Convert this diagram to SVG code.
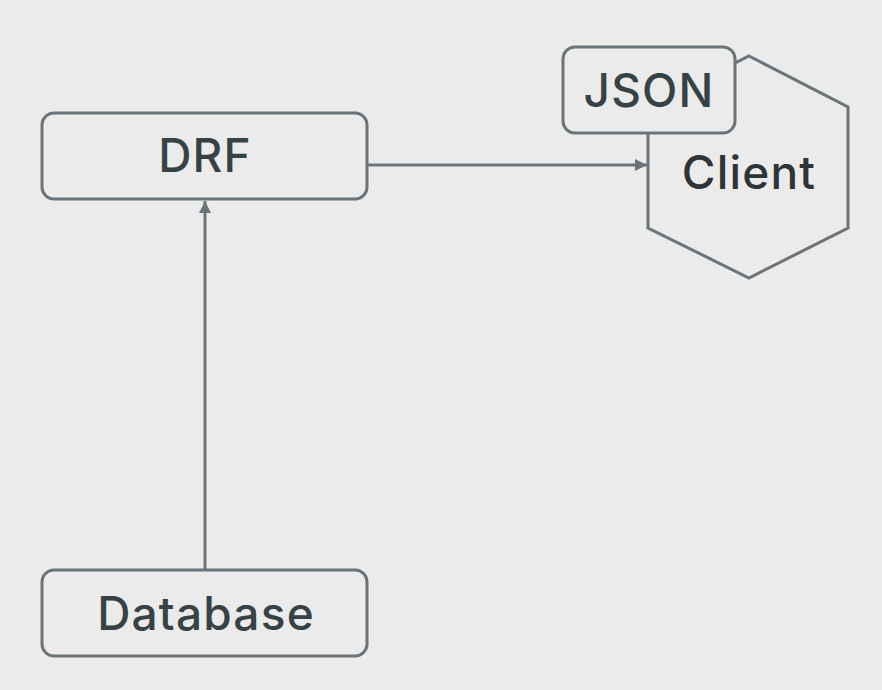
<svg xmlns="http://www.w3.org/2000/svg" width="882" height="690" viewBox="0 0 882 690">
<defs>
<style>
.box{fill:#ebebeb;stroke:#6b7479;stroke-width:3}
.lbl{font-family:Inter,"Noto Sans",sans-serif;font-size:46px;font-weight:500;letter-spacing:1.2px;fill:#364246;text-anchor:middle}
.edge{stroke:#6b7479;stroke-width:3;fill:none}
</style>
<marker id="arr" viewBox="0 0 10 10" refX="10" refY="5" markerWidth="4" markerHeight="4" orient="auto" markerUnits="strokeWidth">
<path d="M0,0 L10,5 L0,10 z" fill="#6b7479"/>
</marker>
</defs>
<rect width="882" height="690" fill="#ebebeb"/>
<g id="connectors">
<path class="edge" d="M205,570 L205,201" marker-end="url(#arr)"/>
<path class="edge" d="M367,165 L647,165" marker-end="url(#arr)"/>
</g>
<g id="drf">
<rect class="box" x="42" y="113" width="325" height="86" rx="12"/>
<text class="lbl" x="205" y="172">DRF</text>
</g>
<g id="database">
<rect class="box" x="42" y="570" width="325" height="86" rx="12"/>
<text class="lbl" x="206" y="630">Database</text>
</g>
<g id="client">
<polygon class="box" points="749,56 848,107 848,228 749,278 648,228 648,107"/>
<text class="lbl" x="749" y="189" style="fill:#2e3538">Client</text>
</g>
<g id="json">
<rect class="box" x="563" y="47" width="172" height="86" rx="12"/>
<text class="lbl" x="649" y="107">JSON</text>
</g>
</svg>
